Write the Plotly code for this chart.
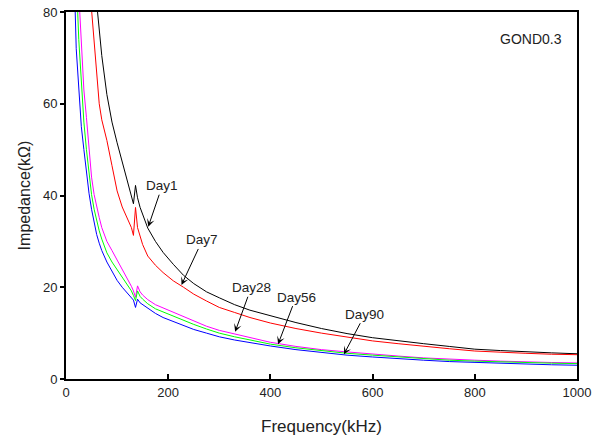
import plotly.graph_objects as go

freq = [10, 15, 20, 25, 30, 35, 40, 45, 50, 55, 60, 65, 70, 80, 90, 100, 110, 120, 128, 132, 136,
        140, 145, 150, 160, 175, 190, 210, 230, 250, 275, 300, 330, 360, 400, 450, 500, 550, 600,
        650, 700, 750, 800, 850, 900, 950, 1000]

day1 = [400, 300, 250, 210, 170, 150, 125, 110, 98, 89, 82, 76, 70.5, 62, 56, 51.5, 47.5, 43.5, 40.2, 38.2, 42.2,
        39.5, 37.4, 35.8, 32.9, 30, 27.6, 25, 22.6, 20.8, 19, 17.7, 16.2, 15, 13.8, 12.3, 11, 9.9, 9.0,
        8.3, 7.7, 7.1, 6.5, 6.2, 5.9, 5.7, 5.5]
day7 = [330, 250, 200, 160, 130, 112, 100, 88, 80.5, 74, 67, 60, 56.5, 52, 46.5, 41, 37.5, 35, 33, 31.3, 37.4,
        33, 30.9, 29.3, 26.8, 24.8, 23.2, 21.4, 20, 18.5, 17, 15.6, 14.5, 13.4, 12.2, 11, 10, 9.1, 8.3,
        7.7, 7.1, 6.6, 6.1, 5.8, 5.6, 5.4, 5.3]
day28 = [200, 135, 100, 84, 72, 63, 57, 49.8, 44, 40.2, 37.5, 35.2, 33, 30, 28, 26, 23.8, 21.8, 20.2, 19.2, 17.8,
         20.3, 19.0, 18.3, 17.3, 16.2, 15.5, 14.6, 13.6, 12.6, 11.5, 10.6, 9.8, 9.0, 8.0, 7.1, 6.4, 5.9, 5.4,
         5.0, 4.6, 4.3, 4.1, 3.9, 3.7, 3.6, 3.5]
day56 = [160, 115, 88, 74, 64, 56, 50, 44.5, 40.2, 37, 34.5, 32.3, 30.5, 27.5, 25.5, 23.8, 22, 20.5, 19.2, 18.2, 17.1,
         19.2, 18.0, 17.4, 16.4, 15.3, 14.6, 13.8, 12.8, 11.9, 10.9, 10.0, 9.2, 8.5, 7.6, 6.8, 6.2, 5.6, 5.2,
         4.8, 4.4, 4.1, 3.9, 3.7, 3.55, 3.45, 3.35]
day90 = [140, 92, 72, 64, 55, 50, 44.5, 40.5, 37, 34, 31.5, 29.6, 28, 25.5, 23.5, 21.5, 20, 18.8, 17.8, 17.2, 15.6,
         17.4, 16.6, 16.2, 15.3, 14.3, 13.4, 12.5, 11.6, 10.8, 10.0, 9.2, 8.5, 7.9, 7.2, 6.4, 5.8, 5.2, 4.8,
         4.4, 4.1, 3.8, 3.6, 3.4, 3.2, 3.1, 3.0]

series_names = ["Day1", "Day7", "Day28", "Day56", "Day90"]
series_values = [day1, day7, day28, day56, day90]
series_colors = ["#000000", "#FF0000", "#FF00FF", "#00FF00", "#0000FF"]

# annotation tips (frequency, impedance) and text offsets (px)
label_tips = [(161, 33.2), (226, 20.5), (331, 10.3), (415, 7.6), (544, 5.4)]
label_offsets = [(14, -41), (21, -45), (16, -44), (18, -47), (21, -40)]

font_family = "Liberation Sans, Arial, sans-serif"

fig = go.Figure()
for name, vals, col in zip(series_names, series_values, series_colors):
    fig.add_trace(go.Scatter(x=freq, y=vals, mode="lines", name=name,
                             line=dict(color=col, width=1)))

for name, (tx, ty), (ax, ay) in zip(series_names, label_tips, label_offsets):
    fig.add_annotation(x=tx, y=ty, ax=ax, ay=ay, text=name, showarrow=True,
                       arrowhead=3, arrowsize=1.3, arrowwidth=1, arrowcolor="#000000",
                       font=dict(family=font_family, size=13.5, color="#222222"))

fig.add_annotation(x=0.975, y=0.955, xref="paper", yref="paper", text="GOND0.3",
                   showarrow=False, xanchor="right", yanchor="top",
                   font=dict(family=font_family, size=14, color="#222222"))

fig.update_layout(
    width=600, height=441,
    margin=dict(l=66, r=23, t=12, b=62),
    plot_bgcolor="white", paper_bgcolor="white",
    showlegend=False,
    font=dict(family=font_family, size=13, color="#222222"),
)
fig.update_xaxes(range=[0, 1000], tickvals=[0, 200, 400, 600, 800, 1000],
                 ticks="inside", ticklen=5, tickwidth=2, tickcolor="black",
                 showline=True, linewidth=2, linecolor="black", mirror=True,
                 showgrid=False, zeroline=False, automargin=False,
                 title=dict(text="Frequency(kHz)", font=dict(size=17), standoff=22))
fig.update_yaxes(range=[0, 80], tickvals=[0, 20, 40, 60, 80],
                 ticks="outside", ticklen=4, tickwidth=2, tickcolor="black",
                 showline=True, linewidth=2, linecolor="black", mirror=True,
                 showgrid=False, zeroline=False, automargin=False,
                 title=dict(text="Impedance(kΩ)", font=dict(size=16), standoff=8))

fig.write_html("out.html")
